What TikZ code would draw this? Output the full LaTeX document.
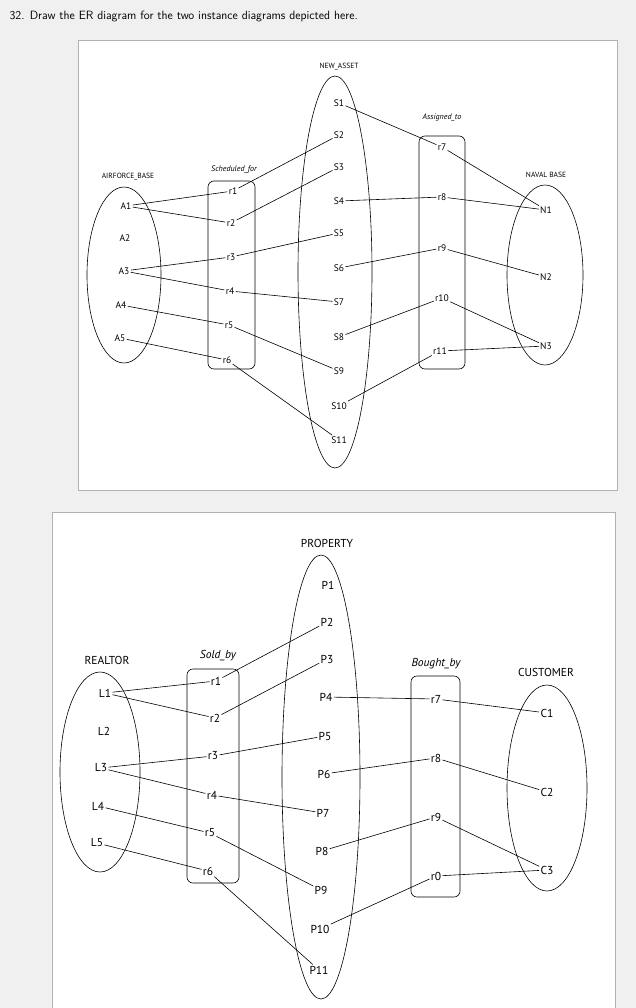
\documentclass[tikz,border=0pt]{standalone}
\usepackage{fontspec}
\setmainfont{PT Sans}
\begin{document}
\begin{tikzpicture}[x=1pt,y=-1pt,
  it/.style={inner sep=1.2pt,font=\fontsize{9.5}{10}\selectfont},
  itb/.style={inner sep=1.2pt,font=\fontsize{11.5}{12}\selectfont},
  lab/.style={font=\fontsize{7.5}{8}\selectfont},
  labb/.style={font=\fontsize{11.5}{12}\selectfont},
  rel/.style={draw,rounded corners=6pt,line width=0.6pt},
  ent/.style={draw,line width=0.6pt},
  con/.style={line width=0.6pt}]
\useasboundingbox (0,0) rectangle (636,1008);
\fill[gray!12] (0,0) rectangle (636,1008);
\fill[white] (78,40) rectangle (617,490);
\draw[gray!60] (78,40) rectangle (617,490);
\fill[white] (52,512) rectangle (615,1008);
\draw[gray!60] (52,1008) -- (52,512) -- (615,512) -- (615,1008);
\node[anchor=west,font=\fontsize{12}{14}\selectfont\sffamily] (title) at (6,17) {32. Draw the ER diagram for the two instance diagrams depicted here.};
% ---------- top diagram ----------
\draw[ent] (124,275) ellipse (37 and 88);
\draw[ent] (335,272) ellipse (37 and 196);
\draw[ent] (545,275) ellipse (38 and 90);
\draw[rel] (208,181) rectangle (255,369);
\draw[rel] (419,136) rectangle (465,369);
\node[lab] (lA) at (128,177) {AIRFORCE\_BASE};
\node[lab] (lS) at (339,67) {NEW\_ASSET};
\node[lab] (lN) at (546,175) {NAVAL BASE};
\node[lab,font=\fontsize{8}{8}\itshape] (lSF) at (234,169) {Scheduled\_for};
\node[lab,font=\fontsize{8}{8}\itshape] (lAT) at (442,118) {Assigned\_to};
\foreach \n/\x/\y in {1/126/206,2/125/238,3/124/271,4/121/305,5/120/338}
  \node[it] (A\n) at (\x,\y) {A\n};
\foreach \n/\y in {1/103,2/135,3/167,4/201,5/233,6/268,7/302,8/337,9/371,10/406,11/440}
  \node[it] (S\n) at (339,\y) {S\n};
\foreach \n/\x/\y in {1/233/191,2/231/223,3/231/257,4/230/291,5/229/325,6/227/360}
  \node[it] (R\n) at (\x,\y) {r\n};
\foreach \n/\x/\y in {7/442/147,8/442/197,9/442/248,10/442/298,11/440/351}
  \node[it] (R\n) at (\x,\y) {r\n};
\foreach \n/\y in {1/210,2/277,3/346}
  \node[it] (N\n) at (546,\y) {N\n};
\foreach \a/\b in {A1/R1,A1/R2,R1/S2,R2/S3,A3/R3,A3/R4,R3/S5,R4/S7,A4/R5,R5/S9,A5/R6,R6/S11,
  S1/R7,R7/N1,S4/R8,R8/N1,S6/R9,R9/N2,S8/R10,R10/N3,S10/R11,R11/N3}
  \draw[con] (\a) -- (\b);
% ---------- bottom diagram ----------
\draw[ent] (100,772) ellipse (40 and 100);
\draw[ent] (321,777) ellipse (39 and 222);
\draw[ent] (547,788) ellipse (40 and 103);
\draw[rel] (187,669) rectangle (239,883);
\draw[rel] (411,676) rectangle (460,897);
\node[labb] (lR) at (107,660) {REALTOR};
\node[labb] (lP) at (327,543) {PROPERTY};
\node[labb] (lC) at (546,672) {CUSTOMER};
\node[labb,font=\fontsize{11.5}{12}\itshape] (lSB) at (218,656) {Sold\_by};
\node[labb,font=\fontsize{11.5}{12}\itshape] (lBB) at (436,664) {Bought\_by};
\foreach \n/\x/\y in {1/105/693,2/104/731,3/101/768,4/98/806,5/97/843}
  \node[itb] (L\n) at (\x,\y) {L\n};
\foreach \n/\x/\y in {1/328/585,2/327/622,3/327/659,4/326/697,5/325/736,6/324/774,7/323/813,8/322/851,9/321/890,10/320/929,11/319/970}
  \node[itb] (P\n) at (\x,\y) {P\n};
\foreach \n/\x/\y in {1/216/681,2/215/718,3/213/756,4/212/795,5/210/833,6/208/871}
  \node[itb] (Q\n) at (\x,\y) {r\n};
\foreach \n/\y in {7/699,8/758,9/817,0/876}
  \node[itb] (Q\n) at (436,\y) {r\n};
\foreach \n/\y in {1/713,2/792,3/870}
  \node[itb] (C\n) at (547,\y) {C\n};
\foreach \a/\b in {L1/Q1,L1/Q2,Q1/P2,Q2/P3,L3/Q3,L3/Q4,Q3/P5,Q4/P7,L4/Q5,Q5/P9,L5/Q6,Q6/P11,
  P4/Q7,Q7/C1,P6/Q8,Q8/C2,P8/Q9,Q9/C3,P10/Q0,Q0/C3}
  \draw[con] (\a) -- (\b);
\end{tikzpicture}
\end{document}
